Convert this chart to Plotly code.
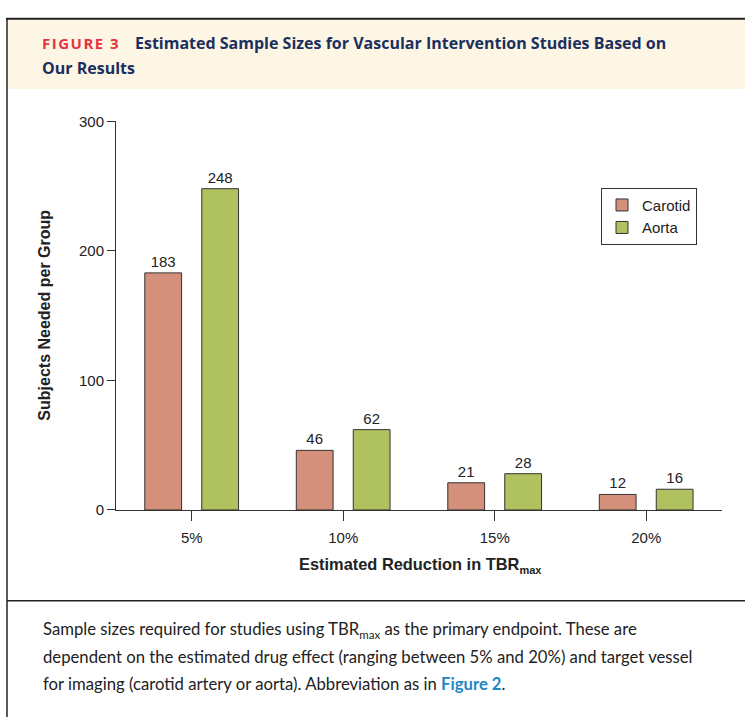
import plotly.graph_objects as go

categories = ["5%", "10%", "15%", "20%"]
carotid = [183, 46, 21, 12]
aorta = [248, 62, 28, 16]
y_ticks = [0, 100, 200, 300]

W, H = 745, 725
def px(x):
    return x / W
def py(y):
    return 1 - y / H

axis_font = "Liberation Sans"
fig = go.Figure()
fig.add_trace(go.Bar(
    name="Carotid", x=categories, y=carotid, text=carotid,
    textposition="outside", width=0.243, offset=-0.31,
    marker=dict(color="#D4907A", line=dict(color="#333333", width=1)),
    textfont=dict(family=axis_font, size=15, color="#222222"),
    cliponaxis=False,
))
fig.add_trace(go.Bar(
    name="Aorta", x=categories, y=aorta, text=aorta,
    textposition="outside", width=0.243, offset=0.066,
    marker=dict(color="#AFC25F", line=dict(color="#333333", width=1)),
    textfont=dict(family=axis_font, size=15, color="#222222"),
    cliponaxis=False,
))

shapes = [
    dict(type="rect", xref="paper", yref="paper", x0=px(8), x1=px(745), y0=py(82), y1=py(10),
         fillcolor="#FDF6E4", line=dict(width=0), layer="below"),
    dict(type="line", xref="paper", yref="paper", x0=px(6), x1=px(745), y0=py(10), y1=py(10),
         line=dict(color="#222222", width=2)),
    dict(type="line", xref="paper", yref="paper", x0=px(7), x1=px(7), y0=py(10), y1=py(725),
         line=dict(color="#222222", width=1.5)),
    dict(type="line", xref="paper", yref="paper", x0=px(7), x1=px(745), y0=py(606), y1=py(606),
         line=dict(color="#222222", width=1.5)),
]

head_font = "Open Sans"
body_font = "Lato"
SUB_AX = "<span style='font-size:11px;baseline-shift:-4px'>max</span>"
SUB_TX = "<span style='font-size:11.5px;baseline-shift:-4px'>max</span>"
annotations = [
    dict(text="<b><span style='letter-spacing:1.5px'>FIGURE 3</span></b>", x=px(40), y=py(35),
         xref="paper", yref="paper", xanchor="left", yanchor="middle", showarrow=False,
         font=dict(family=head_font, size=15, color="#E5333F")),
    dict(text="<b>Estimated Sample Sizes for Vascular Intervention Studies Based on</b>",
         x=px(133), y=py(35), xref="paper", yref="paper",
         xanchor="left", yanchor="middle", showarrow=False,
         font=dict(family=head_font, size=16, color="#1B2F5E")),
    dict(text="<b>Our Results</b>", x=px(40), y=py(60), xref="paper", yref="paper",
         xanchor="left", yanchor="middle", showarrow=False,
         font=dict(family=head_font, size=16, color="#1B2F5E")),
    dict(text="<b>Subjects Needed per Group</b>", x=px(45), y=py(314), xref="paper", yref="paper",
         xanchor="center", yanchor="middle", showarrow=False, textangle=-90,
         font=dict(family=axis_font, size=16, color="#222222")),
    dict(text="<b>Estimated Reduction in TBR" + SUB_AX + "</b>", x=px(420), y=py(570), xref="paper", yref="paper",
         xanchor="center", yanchor="middle", showarrow=False,
         font=dict(family=axis_font, size=16.4, color="#222222")),
    dict(text="Sample sizes required for studies using TBR" + SUB_TX + " as the primary endpoint. These are",
         x=px(41), y=py(636), xref="paper", yref="paper",
         xanchor="left", yanchor="middle", showarrow=False,
         font=dict(family=body_font, size=16.7, color="#222222")),
    dict(text="dependent on the estimated drug effect (ranging between 5% and 20%) and target vessel",
         x=px(41), y=py(664), xref="paper", yref="paper",
         xanchor="left", yanchor="middle", showarrow=False,
         font=dict(family=body_font, size=16.7, color="#222222")),
    dict(text="for imaging (carotid artery or aorta). Abbreviation as in <b><span style='color:#1E87C6'>Figure 2</span></b>.",
         x=px(41), y=py(691), xref="paper", yref="paper",
         xanchor="left", yanchor="middle", showarrow=False,
         font=dict(family=body_font, size=16.7, color="#222222")),
]

fig.update_layout(
    width=W, height=H,
    margin=dict(l=0, r=0, t=0, b=0),
    paper_bgcolor="white", plot_bgcolor="white",
    showlegend=True,
    legend=dict(x=px(601), y=py(183), xanchor="left", yanchor="top",
                bordercolor="#333333", borderwidth=1, bgcolor="white",
                font=dict(family=axis_font, size=15, color="#222222")),
    xaxis=dict(domain=[px(116), px(722)], range=[-0.5, 3.5], type="category",
               showline=True, linecolor="#333333", linewidth=1,
               ticks="outside", ticklen=10, tickcolor="#333333",
               ticklabelstandoff=4,
               tickfont=dict(family=axis_font, size=15, color="#222222"),
               showgrid=False, zeroline=False, fixedrange=True),
    yaxis=dict(domain=[py(513), py(115)], range=[0, 300],
               tickvals=y_ticks, ticktext=[str(v) for v in y_ticks],
               showline=True, linecolor="#333333", linewidth=1,
               ticks="outside", ticklen=8, tickcolor="#333333",
               tickfont=dict(family=axis_font, size=15, color="#222222"),
               showgrid=False, zeroline=False, fixedrange=True),
    shapes=shapes,
    annotations=annotations,
)

post = (
    "document.body.style.margin='0';"
    "document.documentElement.style.overflow='hidden';"
    "var gd=document.getElementById('{plot_id}');"
    "gd.style.position='fixed';gd.style.left='0px';gd.style.top='0px';"
)
fig.write_html("out.html", post_script=post, config={"displayModeBar": False})
